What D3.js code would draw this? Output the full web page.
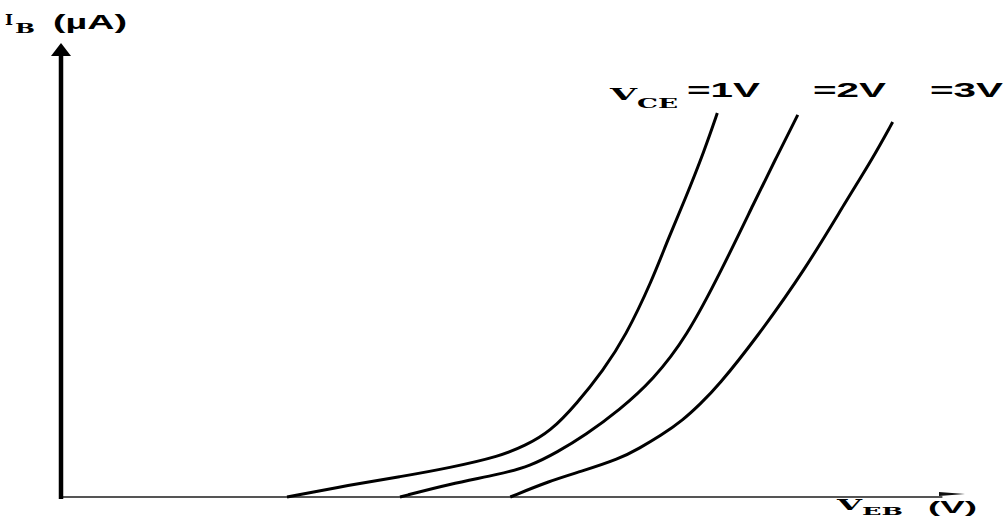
<!DOCTYPE html>
<html>
<head>
<meta charset="utf-8">
<script src="https://cdn.jsdelivr.net/npm/d3@7"></script>
<style>
  body { margin: 0; background: #fff; }
  svg { display: block; }
</style>
</head>
<body>
<div id="chart"></div>
<script>
// V_EB (arbitrary units, 0..1 along the axis) and I_B (µA, 0..100 along the axis)
var vebCE1 = [0.250, 0.320, 0.375, 0.430, 0.486, 0.513, 0.541, 0.571, 0.600, 0.624, 0.654, 0.671, 0.690, 0.712, 0.726];
var ibCE1  = [0, 2.7, 4.5, 6.5, 9.1, 11.4, 14.5, 20.9, 28.3, 35.6, 48.3, 57.2, 66.1, 77.3, 85.5];

var vebCE2 = [0.375, 0.430, 0.486, 0.519, 0.549, 0.580, 0.618, 0.655, 0.692, 0.731, 0.768, 0.791, 0.815];
var ibCE2  = [0, 2.9, 5.1, 6.9, 10.0, 13.8, 19.4, 26.1, 35.6, 50.6, 66.1, 75.5, 85.1];

var vebCE3 = [0.497, 0.541, 0.574, 0.618, 0.640, 0.663, 0.688, 0.707, 0.726, 0.770, 0.823, 0.869, 0.897, 0.920];
var ibCE3  = [0, 3.6, 5.6, 8.5, 10.9, 13.6, 17.1, 20.7, 24.5, 35.6, 50.6, 66.1, 75.1, 83.5];

var seriesLabels = ['=1V', '=2V', '=3V'];

var width = 1006,
    height = 529;

var svg = d3.select('#chart').append('svg')
    .attr('width', width)
    .attr('height', height);

var x = d3.scaleLinear()
    .domain([0, 1])
    .range([61, 965]);

var y = d3.scaleLinear()
    .domain([0, 100])
    .range([497, 48]);

var series = [
    d3.zip(vebCE1, ibCE1),
    d3.zip(vebCE2, ibCE2),
    d3.zip(vebCE3, ibCE3)
];

// x axis (thin, grey) with small arrow
svg.append('line')
    .attr('x1', x(0)).attr('y1', y(0))
    .attr('x2', x(0.975)).attr('y2', y(0))
    .attr('stroke', '#555')
    .attr('stroke-width', 2);

svg.append('path')
    .attr('d', 'M' + (x(1) - 26) + ',' + (y(0) - 5) + 'L' + x(1) + ',' + (y(0) - 3) + 'L' + (x(1) - 26) + ',' + (y(0) - 1) + 'Z')
    .attr('fill', '#111');

// y axis (thick) with arrow head
svg.append('line')
    .attr('x1', x(0)).attr('y1', y(0) + 2)
    .attr('x2', x(0)).attr('y2', y(100) + 6)
    .attr('stroke', '#000')
    .attr('stroke-width', 4.5);

svg.append('path')
    .attr('d', 'M' + (x(0) - 10) + ',' + (y(100) + 8) + 'L' + x(0) + ',' + (y(100) - 5) + 'L' + (x(0) + 10) + ',' + (y(100) + 8) + 'Z')
    .attr('fill', '#000');

var line = d3.line()
    .x(function(d) { return x(d[0]); })
    .y(function(d) { return y(d[1]); })
    .curve(d3.curveBasis);

svg.selectAll('.curve')
    .data(series)
    .enter().append('path')
    .attr('class', 'curve')
    .attr('d', line)
    .attr('fill', 'none')
    .attr('stroke', '#000')
    .attr('stroke-width', 3);

// labels
var serif = '"DejaVu Serif", serif',
    sans = '"Liberation Sans", Arial, sans-serif';

function label(txt, px, py, size, fam, len) {
    var t = svg.append('text')
        .attr('x', px)
        .attr('y', py)
        .attr('font-family', fam)
        .attr('font-weight', 'bold')
        .attr('font-size', size)
        .attr('fill', '#000')
        .text(txt);
    if (len) t.attr('textLength', len).attr('lengthAdjust', 'spacingAndGlyphs');
    return t;
}

// y axis title: I_B (µA)
label('I', 5, 25, 14, serif, 8);
label('B', 15, 33, 12, serif, 20);
label('(µA)', 53, 29, 21, sans, 74);

// V_CE series labels
label('V', 610, 100, 17, serif, 27);
label('CE', 637, 108, 12, serif, 41);
var labelX = [687, 813, 930];
seriesLabels.forEach(function(s, i) {
    label(s, labelX[i], 97, 19.5, sans, 73);
});

// x axis title: V_EB (V)
label('V', 837, 510, 14, serif, 25);
label('EB', 862, 515, 11, serif, 41);
label('(V)', 928, 513, 16, sans, 49);
</script>
</body>
</html>
